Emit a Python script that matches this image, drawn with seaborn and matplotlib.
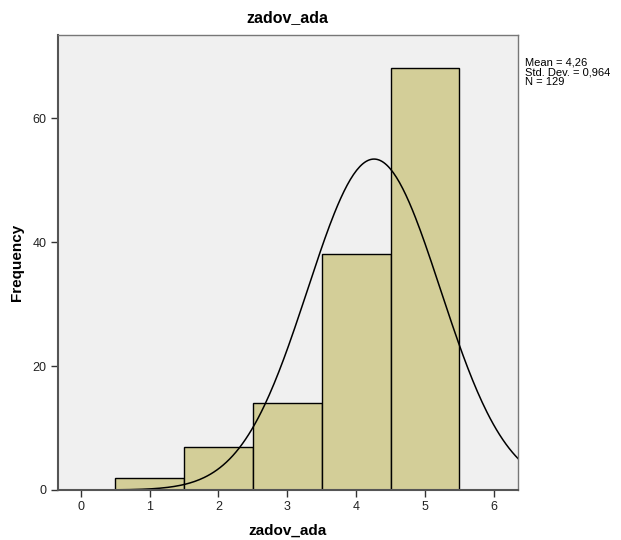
import matplotlib
matplotlib.use("Agg")
import matplotlib.pyplot as plt
import numpy as np
import pandas as pd
import seaborn as sns

# Histogram of zadov_ada with fitted normal curve (SPSS style)
values = [1, 2, 3, 4, 5]
counts = [2, 7, 14, 38, 68]
mean_val = 4.26
std_val = 0.964
n_total = 129

df = pd.DataFrame({"zadov_ada": values, "count": counts})

sns.set_style("white")
plt.rcParams['font.family'] = ['Liberation Sans', 'DejaVu Sans']
plt.rcParams['text.color'] = 'black'
plt.rcParams['axes.labelcolor'] = 'black'

fig = plt.figure(figsize=(6.21, 5.4), dpi=100)
ax = fig.add_axes([0.093, 0.0926, 0.741, 0.8426])
ax.set_facecolor('#F0F0F0')

sns.histplot(data=df, x="zadov_ada", weights="count", bins=[0.5, 1.5, 2.5, 3.5, 4.5, 5.5],
             color='#D3CE98', alpha=1, edgecolor='black', linewidth=1.0, ax=ax)

# fitted normal curve scaled to counts (bin width 1)
xs = np.linspace(-0.4, 6.5, 300)
ys = n_total / (std_val * np.sqrt(2 * np.pi)) * np.exp(-0.5 * ((xs - mean_val) / std_val) ** 2)
sns.lineplot(x=xs, y=ys, color='black', linewidth=1.1, ax=ax)

ax.set_xlim(-0.335, 6.35)
ax.set_ylim(0, 73.4)
ax.set_xticks(range(0, 7))
ax.set_yticks([0, 20, 40, 60])
ax.tick_params(axis='both', direction='out', length=5, width=1, pad=3, labelsize=9,
               color='#333333', labelcolor='#222222', bottom=True, left=True)

for side in ['left', 'bottom']:
    ax.spines[side].set_color('#555555')
    ax.spines[side].set_linewidth(1.5)
for side in ['top', 'right']:
    ax.spines[side].set_color('#777777')
    ax.spines[side].set_linewidth(1.0)

ax.set_title("zadov_ada", fontsize=11.5, fontweight='bold', pad=9)
ax.set_xlabel("zadov_ada", fontsize=11, fontweight='bold', labelpad=8)
ax.set_ylabel("Frequency", fontsize=11, fontweight='bold', labelpad=6)

fig.text(0.846, 0.893, "Mean = 4,26\nStd. Dev. = 0,964\nN = 129",
         fontsize=8, va='top', ha='left', linespacing=0.95)

fig.savefig("out.png", dpi=100)
